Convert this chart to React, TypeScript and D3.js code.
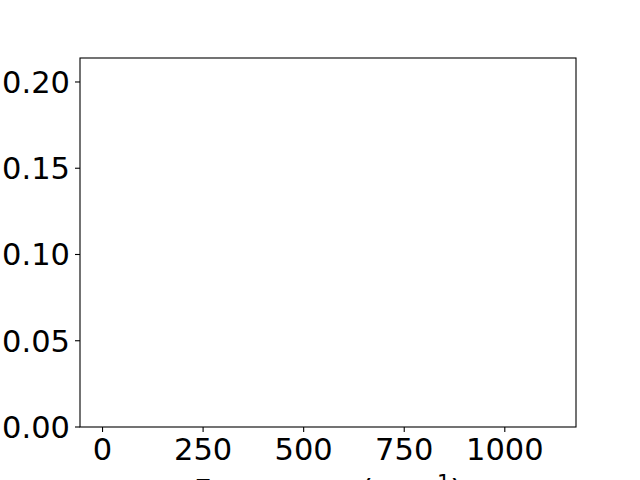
import React from 'react';
import { scaleLinear, format } from 'd3';

// the source plot has no data drawn, only the empty axes
const X_TICKS = [0, 250, 500, 750, 1000];
const Y_TICKS = [0, 0.05, 0.1, 0.15, 0.2];
const X_DOMAIN = [-56, 1177];
const Y_DOMAIN = [0, 0.2139];
const X_LABEL = 'Frequency (cm';
const X_LABEL_SUP = '\u22121';

const W = 640;
const H = 480;
const M = { left: 80, right: 576, top: 58, bottom: 427 };
const FONT = '"DejaVu Sans", sans-serif';
const FS = 30.5;

export default function App() {
  const x = scaleLinear().domain(X_DOMAIN).range([M.left, M.right]);
  const y = scaleLinear().domain(Y_DOMAIN).range([M.bottom, M.top]);
  const fmt = format('.2f');

  return (
    <svg
      width={W}
      height={H}
      style={{ position: 'absolute', left: 0, top: 0, background: '#fff' }}
      fontFamily={FONT}
    >
      <rect x={0} y={0} width={W} height={H} fill="#fff" />
      {X_TICKS.map(t => (
        <g key={'x' + t}>
          <line x1={x(t)} x2={x(t)} y1={M.bottom} y2={M.bottom + 5} stroke="#000" strokeWidth={1.1} />
          <text x={x(t)} y={M.bottom + 33} fontSize={FS} textAnchor="middle" fill="#000">{t}</text>
        </g>
      ))}
      {Y_TICKS.map(t => (
        <g key={'y' + t}>
          <line x1={M.left - 5} x2={M.left} y1={y(t)} y2={y(t)} stroke="#000" strokeWidth={1.1} />
          <text x={M.left - 10} y={y(t)} dy="0.36em" fontSize={FS} textAnchor="end" fill="#000">{fmt(t)}</text>
        </g>
      ))}
      <rect
        x={M.left}
        y={M.top}
        width={M.right - M.left}
        height={M.bottom - M.top}
        fill="none"
        stroke="#000"
        strokeWidth={1.1}
      />
      <text x={(M.left + M.right) / 2} y={500.5} fontSize={FS} textAnchor="middle" fill="#000">
        {X_LABEL}
        <tspan fontSize={21} dy={-10.5}>{X_LABEL_SUP}</tspan>
        <tspan dy={10.5}>)</tspan>
      </text>
    </svg>
  );
}
